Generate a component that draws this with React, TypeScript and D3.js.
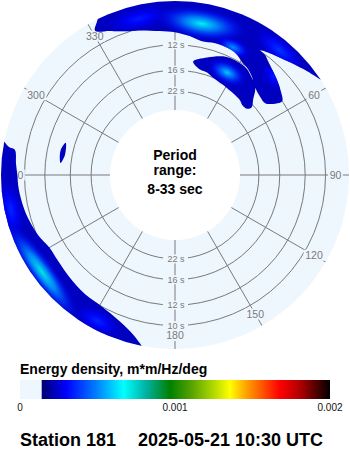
import React from 'react';
import * as d3 from 'd3';

const W = 350;
const H = 450;
const CX = 175;
const CY = 175;
const R_IN = 65;
const R_OUT = 174;
const FONT = "'Liberation Sans', Arial, sans-serif";

// radial axis: frequency (Hz), labelled in period
const freqDomain = [0.03, 0.12];
const ringPeriods = [10, 12, 16, 22];
const spokeDirs = [0, 30, 60, 90, 120, 150, 180, 210, 240, 270, 300, 330];
const centerLines = ['Period', 'range:', '8-33 sec'];

// colour map (energy density, m*m/Hz/deg)
const cmapValues = [0.00014, 0.0003, 0.000495, 0.000667, 0.000817, 0.000968, 0.001097, 0.001247, 0.001355, 0.001462, 0.001677, 0.001806, 0.002];
const cmapColors = ['#000070', '#0000ff', '#0080ff', '#00ffff', '#00b0a0', '#008000', '#50a000', '#b0d800', '#ffff00', '#ffa000', '#ff0000', '#b00000', '#000000'];
const colorbarTicks = [0, 0.001, 0.002];
const colorbarTickLabels = ['0', '0.001', '0.002'];
const baseEnergy = 0.00023;

// energy regions: boundary directions (deg, from) and frequencies (Hz)
const blobADir = [331, 333, 336, 345, 355, 5, 15, 25, 35, 45, 53, 57.5, 52, 46, 41, 37, 34.4, 37, 39.8, 45.5, 51, 55.5, 54.6, 51.5, 47.4, 42.6, 38, 34, 31, 27, 23, 17, 11, 6, 0, 354, 346, 340.7, 335.6];
const blobAFreq = [0.1117, 0.1175, 0.124, 0.124, 0.124, 0.124, 0.124, 0.124, 0.124, 0.124, 0.124, 0.121, 0.1145, 0.1089, 0.1051, 0.1025, 0.1004, 0.0996, 0.0966, 0.092, 0.0878, 0.0832, 0.0776, 0.0711, 0.0714, 0.0738, 0.079, 0.0825, 0.084, 0.0878, 0.0893, 0.0895, 0.0885, 0.0911, 0.0936, 0.0952, 0.0987, 0.1014, 0.1061];
const blobBDir = [9.1, 15.3, 22, 26.8, 31, 34, 38, 42.6, 46, 48.5, 47.5, 44, 40.5, 31, 21.4, 17.4, 13.4];
const blobBFreq = [0.0708, 0.0765, 0.0815, 0.0827, 0.0826, 0.0818, 0.0785, 0.0738, 0.0657, 0.0606, 0.057, 0.0562, 0.058, 0.0597, 0.0622, 0.0647, 0.0655];
const blobCDir = [286.4, 282, 276, 280];
const blobCFreq = [0.07, 0.0726, 0.071, 0.0684];
const blobDDir = [282, 279.5, 279, 274, 270, 265, 258, 252, 246, 240, 234, 226, 217, 209, 201, 194, 190, 200, 220, 240, 260, 275];
const blobDFreq = [0.124, 0.1142, 0.1095, 0.1072, 0.1058, 0.1052, 0.1035, 0.1015, 0.099, 0.0955, 0.0955, 0.097, 0.099, 0.1, 0.1045, 0.113, 0.124, 0.126, 0.126, 0.126, 0.126, 0.126];

// energy peaks inside the regions
const peakDir = [347, 40, 45, 10, 24.5, 27, 258, 208, 234];
const peakFreq = [0.108, 0.11, 0.091, 0.1025, 0.0916, 0.0709, 0.114, 0.112, 0.1115];
const peakEnergy = [0.00034, 0.00038, 0.00034, 0.00069, 0.00052, 0.0006, 0.00036, 0.00036, 0.00071];
const peakDirSpread = [14, 12, 7, 18, 8, 11, 12, 10, 22];
const peakFreqSpread = [0.011, 0.011, 0.01, 0.014, 0.008, 0.01, 0.011, 0.011, 0.011];

const footerStation = 'Station 181';
const footerTime = '2025-05-21 10:30 UTC';
const legendTitle = 'Energy density, m*m/Hz/deg';

export default function App() {
  const rScale = d3.scaleLinear().domain(freqDomain).range([R_IN, R_OUT + 1]);
  const color = d3.scaleLinear<string>().domain(cmapValues).range(cmapColors).interpolate(d3.interpolateRgb).clamp(true);
  const rad = (deg: number) => (deg * Math.PI) / 180;
  const pt = (dir: number, r: number) => [CX + r * Math.sin(rad(dir)), CY - r * Math.cos(rad(dir))];

  const radial = d3
    .lineRadial<[number, number]>()
    .angle((d) => rad(d[0]))
    .radius((d) => rScale(d[1]))
    .curve(d3.curveCatmullRomClosed.alpha(0.5));

  const blobs = [
    [blobADir, blobAFreq],
    [blobBDir, blobBFreq],
    [blobCDir, blobCFreq],
    [blobDDir, blobDFreq],
  ].map(([dirs, fr]) => radial(dirs.map((d, i) => [d, fr[i]] as [number, number])) as string);

  const xCb = d3.scaleLinear().domain([0, 0.002]).range([20, 330]);
  const cbStart = xCb(cmapValues[0]);
  const cbEnd = xCb(0.002);

  const diskColor = '#eef6fe';
  const gridColor = '#7a7a7a';

  return (
    <svg width={W} height={H} style={{ position: 'absolute', left: 0, top: 0, background: '#fff' }}>
      <defs>
        <clipPath id="disk">
          <circle cx={CX} cy={CY} r={R_OUT} />
        </clipPath>
        <clipPath id="blobs">
          {blobs.map((d, i) => (
            <path key={i} d={d} transform={`translate(${CX},${CY})`} />
          ))}
        </clipPath>
        {peakEnergy.map((e, i) => (
          <radialGradient key={i} id={`pk${i}`} cx="50%" cy="50%" r="50%">
            <stop offset="0%" stopColor={color(e)} stopOpacity={1} />
            <stop offset="35%" stopColor={color(baseEnergy + (e - baseEnergy) * 0.6)} stopOpacity={0.9} />
            <stop offset="70%" stopColor={color(baseEnergy + (e - baseEnergy) * 0.25)} stopOpacity={0.55} />
            <stop offset="100%" stopColor={color(baseEnergy)} stopOpacity={0} />
          </radialGradient>
        ))}
        <linearGradient id="cbar" gradientUnits="userSpaceOnUse" x1={cbStart} x2={cbEnd} y1={0} y2={0}>
          {cmapValues.map((v, i) => (
            <stop key={i} offset={(xCb(v) - cbStart) / (cbEnd - cbStart)} stopColor={cmapColors[i]} />
          ))}
        </linearGradient>
      </defs>

      {/* disk */}
      <circle cx={CX} cy={CY} r={R_OUT} fill={diskColor} />

      {/* rings */}
      {ringPeriods.map((p) => (
        <circle key={p} cx={CX} cy={CY} r={rScale(1 / p)} fill="none" stroke={gridColor} strokeWidth={1} />
      ))}

      {/* spokes */}
      {spokeDirs.map((d) => {
        const [x1, y1] = pt(d, R_IN);
        const [x2, y2] = pt(d, R_OUT + 2);
        return <line key={d} x1={x1} y1={y1} x2={x2} y2={y2} stroke={gridColor} strokeWidth={1} clipPath="url(#disk)" />;
      })}

      {/* spoke labels */}
      {spokeDirs.map((d) => {
        const [x, y] = pt(d, 160.5);
        const label = String(d);
        const w = label.length * 5.9 + 3;
        return (
          <g key={d}>
            <rect x={x - w / 2} y={y - 5.5} width={w} height={11} fill={diskColor} />
            <text x={x} y={y + 3.8} textAnchor="middle" fontFamily={FONT} fontSize={10.5} fill={gridColor}>
              {label}
            </text>
          </g>
        );
      })}

      {/* ring labels */}
      {ringPeriods.map((p) =>
        [0, 180].map((d) => {
          const [x, y] = pt(d, rScale(1 / p));
          return (
            <g key={`${p}-${d}`}>
              <rect x={x - 12} y={y - 4.5} width={25} height={9} fill={diskColor} />
              <text x={x + 1} y={y + 3.2} textAnchor="middle" fontFamily={FONT} fontSize={9} fill={gridColor}>
                {`${p} s`}
              </text>
            </g>
          );
        })
      )}

      {/* inner hole */}
      <circle cx={CX} cy={CY} r={R_IN} fill="#ffffff" />

      {/* energy */}
      <g clipPath="url(#disk)">
        <g clipPath="url(#blobs)">
          <rect x={0} y={0} width={W} height={W} fill={color(baseEnergy)} />
          {peakEnergy.map((e, i) => {
            const r = rScale(peakFreq[i]);
            const [x, y] = pt(peakDir[i], r);
            const rx = r * rad(peakDirSpread[i]);
            const ry = Math.abs(rScale(peakFreq[i] + peakFreqSpread[i]) - r);
            return (
              <ellipse key={i} cx={0} cy={0} rx={rx} ry={ry} fill={`url(#pk${i})`} transform={`translate(${x},${y}) rotate(${peakDir[i]})`} />
            );
          })}
        </g>
      </g>

      {/* center text */}
      {centerLines.map((t, i) => (
        <text key={t} x={CX} y={[159.5, 174.5, 194][i]} textAnchor="middle" fontFamily={FONT} fontWeight="bold" fontSize={14} fill="#000">
          {t}
        </text>
      ))}

      {/* legend */}
      <text x={20} y={374} fontFamily={FONT} fontWeight="bold" fontSize={14} fill="#000">
        {legendTitle}
      </text>
      <rect x={xCb(0)} y={380} width={cbStart - xCb(0)} height={19} fill={diskColor} />
      <rect x={cbStart} y={380} width={cbEnd - cbStart} height={19} fill="url(#cbar)" />
      {colorbarTicks.map((v, i) => (
        <text key={v} x={xCb(v)} y={410.5} textAnchor="middle" fontFamily={FONT} fontSize={10} fill="#111">
          {colorbarTickLabels[i]}
        </text>
      ))}

      {/* footer */}
      <text x={20} y={445.5} fontFamily={FONT} fontWeight="bold" fontSize={18} fill="#000">
        {footerStation}
      </text>
      <text x={138} y={445.5} fontFamily={FONT} fontWeight="bold" fontSize={18} fill="#000">
        {footerTime}
      </text>
    </svg>
  );
}
